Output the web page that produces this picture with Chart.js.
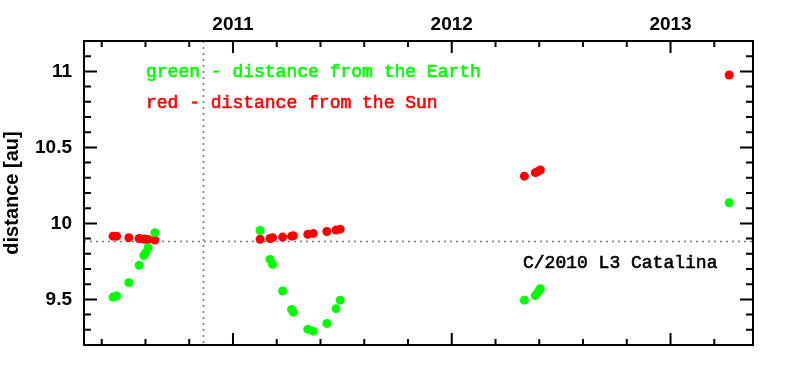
<!DOCTYPE html>
<html lang="en">
<head>
    <meta charset="UTF-8">
    <title>C/2010 L3 Catalina - distance</title>
    <script src="https://cdn.jsdelivr.net/npm/chart.js"></script>
    <style>
        body { margin: 0; background: #fff; }
        canvas { display: block; }
    </style>
</head>
<body>
    <canvas id="distChart" width="795" height="373"></canvas>

    <script>
        // observation dates (decimal years)
        const dates = [
            2010.452, 2010.468, 2010.524, 2010.571, 2010.593, 2010.601, 2010.612, 2010.643,
            2011.124, 2011.169, 2011.181, 2011.227, 2011.268, 2011.276, 2011.342, 2011.367, 2011.429, 2011.471, 2011.490,
            2012.332, 2012.382, 2012.394, 2012.405,
            2013.268
        ];
        // distance from the Earth [au]
        const earthDist = [
            9.515, 9.522, 9.610, 9.724, 9.789, 9.807, 9.840, 9.939,
            9.954, 9.763, 9.730, 9.555, 9.434, 9.416, 9.303, 9.291, 9.342, 9.439, 9.495,
            9.495, 9.526, 9.548, 9.570,
            10.136
        ];
        // distance from the Sun [au]
        const sunDist = [
            9.916, 9.916, 9.906, 9.901, 9.897, 9.896, 9.894, 9.890,
            9.895, 9.901, 9.906, 9.910, 9.916, 9.919, 9.928, 9.934, 9.947, 9.956, 9.962,
            10.311, 10.334, 10.342, 10.351,
            10.976
        ];
        const yearLabels = [2011, 2012, 2013];
        const yLabels = [9.5, 10, 10.5, 11];
        const perihelionDate = 2010.861;
        const perihelionDist = 9.882;

        const toPoints = vals => vals.map((v, i) => ({ x: dates[i], y: v }));

        // slightly heavier text, like the plotting package's font
        function heavyText(ctx, txt, x, y, color) {
            ctx.fillStyle = color;
            ctx.strokeStyle = color;
            ctx.lineWidth = 0.6;
            ctx.fillText(txt, x, y);
            ctx.strokeText(txt, x, y);
        }

        // frame, ticks, labels and reference lines
        const framePlugin = {
            id: 'frame',
            beforeDatasetsDraw(chart) {
                const { ctx, chartArea: a, scales: { x, y } } = chart;
                ctx.save();
                ctx.strokeStyle = '#777';
                ctx.lineWidth = 1.5;
                ctx.setLineDash([2, 4]);
                const py = Math.round(y.getPixelForValue(perihelionDist)) + 0.5;
                ctx.beginPath();
                ctx.moveTo(a.left, py);
                ctx.lineTo(a.right, py);
                ctx.stroke();
                const px = Math.round(x.getPixelForValue(perihelionDate)) + 0.5;
                ctx.beginPath();
                ctx.moveTo(px, a.top);
                ctx.lineTo(px, a.bottom);
                ctx.stroke();
                ctx.restore();
            },
            afterDraw(chart) {
                const { ctx, chartArea: a, scales: { x, y } } = chart;
                ctx.save();
                ctx.strokeStyle = '#000';
                ctx.lineWidth = 2;
                ctx.strokeRect(a.left, a.top, a.right - a.left, a.bottom - a.top);

                // x ticks (top and bottom, inward)
                ctx.beginPath();
                for (let t = 2010.4; t < x.max; t += 0.2) {
                    const px = x.getPixelForValue(t);
                    const major = Math.abs(t - Math.round(t)) < 0.01;
                    const len = major ? 12 : 6;
                    ctx.moveTo(px, a.bottom);
                    ctx.lineTo(px, a.bottom - len);
                    ctx.moveTo(px, a.top);
                    ctx.lineTo(px, a.top + len);
                }
                // y ticks (left and right, inward)
                for (let t = 9.3; t < y.max; t += 0.1) {
                    const py = y.getPixelForValue(t);
                    const major = Math.abs(t * 2 - Math.round(t * 2)) < 0.01;
                    const len = major ? 13 : 7;
                    ctx.moveTo(a.left, py);
                    ctx.lineTo(a.left + len, py);
                    ctx.moveTo(a.right, py);
                    ctx.lineTo(a.right - len, py);
                }
                ctx.stroke();

                ctx.fillStyle = '#000';
                ctx.font = 'bold 19px "Liberation Sans", Arial, sans-serif';
                ctx.textBaseline = 'middle';
                ctx.textAlign = 'center';
                yearLabels.forEach(yr => ctx.fillText(String(yr), x.getPixelForValue(yr), 25));
                ctx.textAlign = 'right';
                yLabels.forEach(v => ctx.fillText(String(v), 72, y.getPixelForValue(v)));

                // axis title
                ctx.save();
                ctx.translate(12, 193);
                ctx.rotate(-Math.PI / 2);
                ctx.textAlign = 'center';
                ctx.font = 'bold 20px "Liberation Sans", Arial, sans-serif';
                ctx.fillText('distance [au]', 0, 0);
                ctx.restore();

                // annotations
                ctx.textAlign = 'left';
                ctx.font = '18px "Liberation Mono", monospace';
                heavyText(ctx, 'green - distance from the Earth', 146, 72, '#00ff00');
                heavyText(ctx, 'red - distance from the Sun', 146, 103, '#ff0000');
                heavyText(ctx, 'C/2010 L3 Catalina', 523, 263, '#000');
                ctx.restore();
            }
        };

        const distChart = new Chart(document.getElementById('distChart'), {
            type: 'scatter',
            data: {
                datasets: [{
                    label: 'Earth',
                    data: toPoints(earthDist),
                    backgroundColor: '#00ff00',
                    borderWidth: 0,
                    pointRadius: 4.5
                }, {
                    label: 'Sun',
                    data: toPoints(sunDist),
                    backgroundColor: '#ff0000',
                    borderWidth: 0,
                    pointRadius: 4.5
                }]
            },
            options: {
                responsive: false,
                animation: false,
                devicePixelRatio: 1,
                layout: { padding: { left: 84, right: 42, top: 41, bottom: 28 } },
                plugins: {
                    legend: { display: false },
                    tooltip: { enabled: false }
                },
                scales: {
                    x: { type: 'linear', min: 2010.319, max: 2013.377, display: false },
                    y: { min: 9.2, max: 11.2, display: false }
                }
            },
            plugins: [framePlugin]
        });
    </script>
</body>
</html>
